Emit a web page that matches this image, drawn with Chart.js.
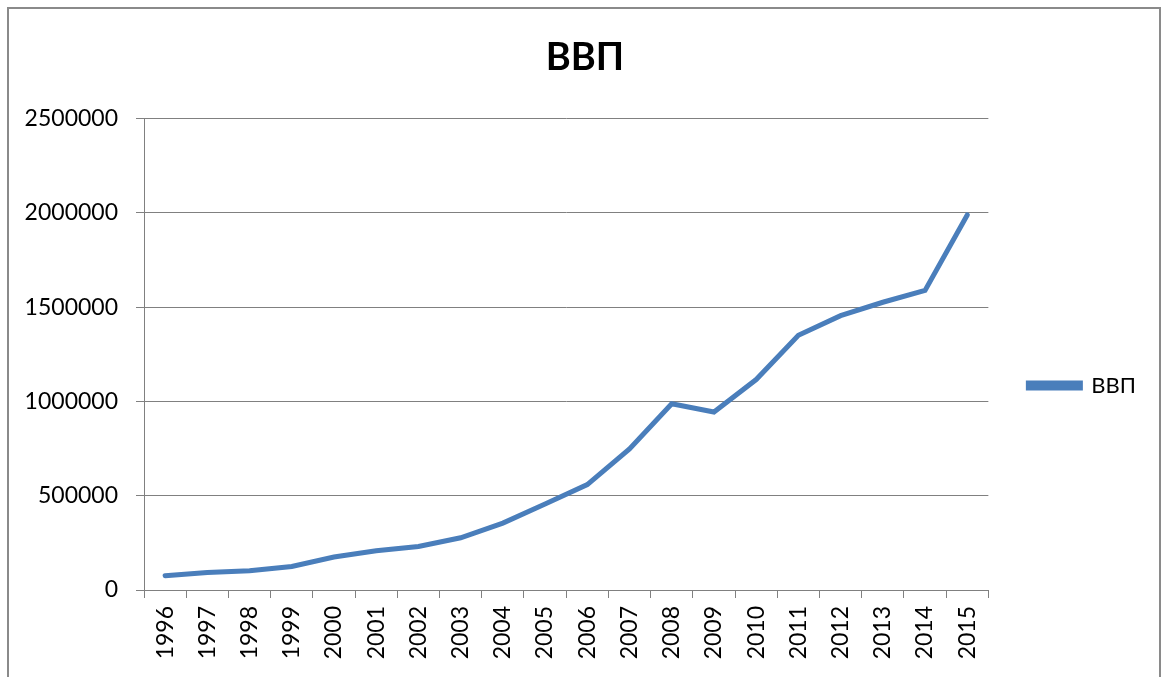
<!DOCTYPE html>
<html>
<head>
<meta charset="utf-8">
<script src="https://cdn.jsdelivr.net/npm/chart.js@4"></script>
<style>
  html, body { margin: 0; padding: 0; background: #fff; overflow: hidden; }
  #wrap { position: relative; width: 1163px; height: 677px; }
  #frame { position: absolute; left: 7px; top: 7px; width: 1150px; height: 700px; border: 2px solid #8a8a8a; }
  #box { position: absolute; left: 0; top: 0; width: 1163px; height: 677px; }
</style>
</head>
<body>
<div id="wrap">
  <div id="frame"></div>
  <div id="box"><canvas id="lineChart"></canvas></div>
</div>
<script>
// data
const years = ['1996','1997','1998','1999','2000','2001','2002','2003','2004','2005',
               '2006','2007','2008','2009','2010','2011','2012','2013','2014','2015'];
const gdp = [76000, 93000, 102000, 125000, 175000, 208000, 231000, 277000, 355000, 456000,
             559000, 748000, 988000, 944000, 1116000, 1351000, 1455000, 1526000, 1589000, 1989000];
const seriesName = 'ВВП';
const yTicks = [0, 500000, 1000000, 1500000, 2000000, 2500000];

const gridColor = '#808080';
const lineColor = '#4a7ebb';

const ctx = document.getElementById('lineChart').getContext('2d');
const gdpChart = new Chart(ctx, {
    type: 'line',
    data: {
        labels: years,
        datasets: [{
            label: seriesName,
            data: gdp,
            borderColor: lineColor,
            backgroundColor: lineColor,
            borderWidth: 5,
            borderCapStyle: 'round',
            pointRadius: 0,
            tension: 0
        }]
    },
    options: {
        responsive: true,
        maintainAspectRatio: false,
        animation: false,
        // left padding keeps the title centred like the original
        layout: { padding: { left: 24, right: 17, top: 0, bottom: 0 } },
        scales: {
            x: {
                offset: true,
                grid: {
                    offset: true,
                    drawOnChartArea: false,
                    drawTicks: true,
                    tickLength: 8,
                    color: gridColor
                },
                border: { color: gridColor },
                ticks: {
                    minRotation: 90,
                    maxRotation: 90,
                    padding: 8,
                    color: '#000',
                    font: { family: 'Lato', size: 23 }
                },
                afterFit: scale => { scale.height = 87; }
            },
            y: {
                min: 0,
                max: 2500000,
                afterBuildTicks: scale => { scale.ticks = yTicks.map(v => ({ value: v })); },
                grid: { color: gridColor, tickLength: 8 },
                border: { color: gridColor },
                ticks: {
                    padding: 18,
                    color: '#000',
                    font: { family: 'Lato', size: 23 },
                    callback: v => String(v)
                },
                afterFit: scale => { scale.width = 120; }
            }
        },
        plugins: {
            title: {
                display: true,
                text: seriesName,
                color: '#000',
                font: { family: 'Lato', size: 38, weight: 'bold', lineHeight: 1.2 },
                padding: { top: 35, bottom: 38 }
            },
            legend: {
                position: 'right',
                title: { display: true, text: '', padding: { top: 94, bottom: 0 }, font: { size: 1, lineHeight: 0 } },
                labels: {
                    boxWidth: 52,
                    boxHeight: 5,
                    padding: 40,
                    color: '#000',
                    font: { family: 'Lato', size: 22 }
                }
            },
            tooltip: { enabled: false }
        }
    }
});
</script>
</body>
</html>
